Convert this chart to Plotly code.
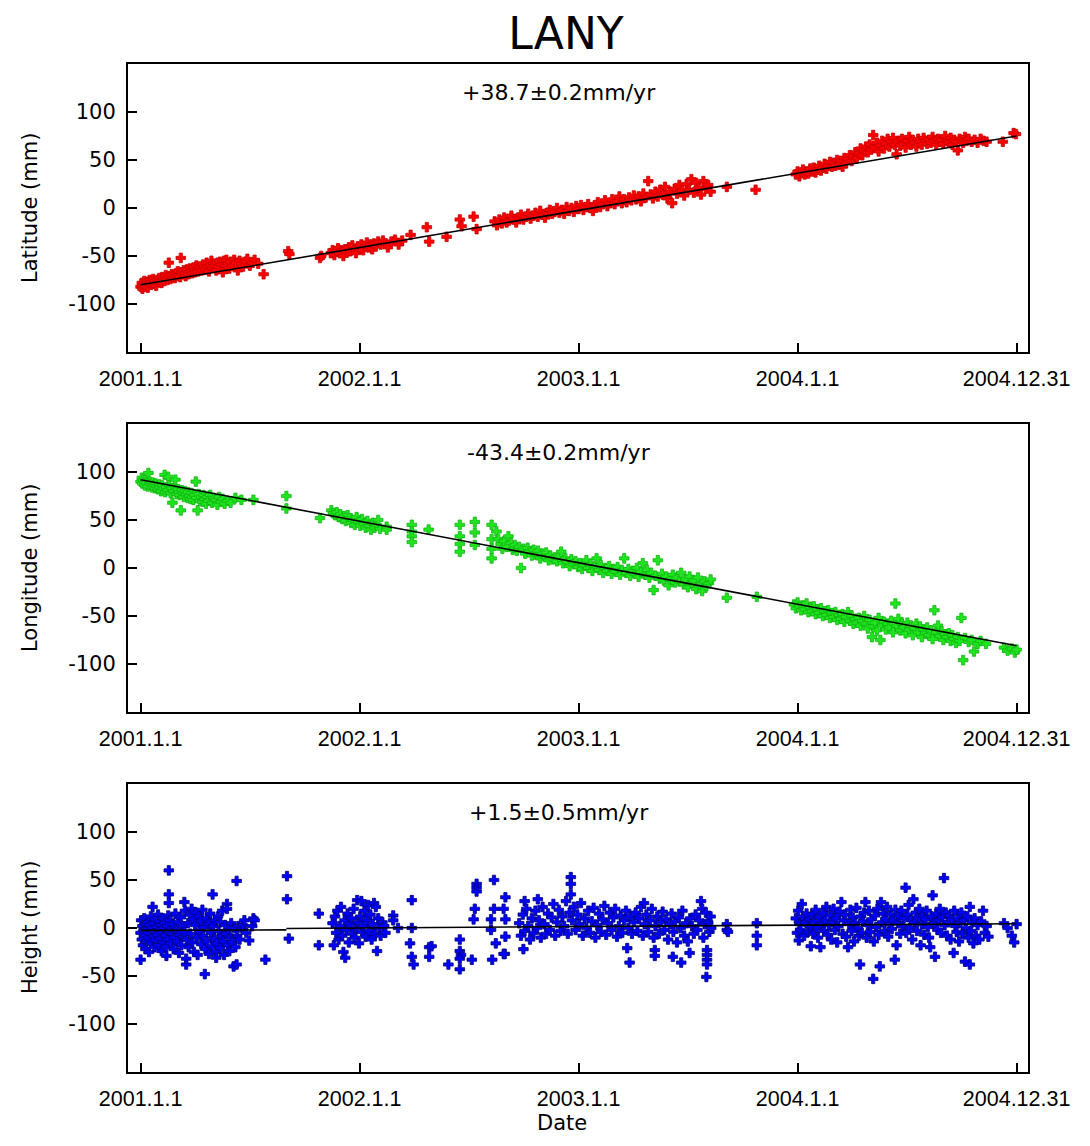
import pandas as pd
import plotly.graph_objects as go

STATION = "LANY"
START = "2001-01-01"
tick_dates = ["2001-01-01", "2002-01-01", "2003-01-01", "2004-01-01", "2004-12-31"]
tick_labels = ["2001.1.1", "2002.1.1", "2003.1.1", "2004.1.1", "2004.12.31"]
y_ticks = [-100, -50, 0, 50, 100]
panel_titles = ["Latitude (mm)", "Longitude (mm)", "Height (mm)"]
rate_labels = ["+38.7\u00b10.2mm/yr", "-43.4\u00b10.2mm/yr", "+1.5\u00b10.5mm/yr"]

# observations: (days since 2001-01-01, mm)
lat_obs = [
    (0, -82), (2, -78), (3, -84), (5, -80), (6, -76), (8, -82), (9, -79), (11, -77), (12, -83), (14, -78),
    (15, -75), (17, -80), (18, -77), (20, -79), (21, -74), (23, -78), (25, -76), (26, -81), (28, -75), (30, -77),
    (31, -73), (33, -76), (35, -78), (36, -72), (38, -74), (40, -76), (42, -70), (44, -73), (45, -75), (47, -57),
    (48, -71), (50, -74), (52, -69), (54, -72), (55, -70), (57, -73), (59, -68), (60, -71), (62, -66), (64, -70),
    (66, -72), (67, -52), (68, -67), (70, -69), (72, -65), (74, -68), (75, -71), (77, -64), (79, -67), (80, -69),
    (82, -63), (84, -66), (86, -68), (88, -62), (89, -65), (91, -67), (93, -60), (95, -64), (96, -66), (98, -61),
    (100, -63), (102, -65), (104, -59), (106, -62), (108, -64), (110, -57), (112, -61), (114, -66), (116, -60),
    (118, -55), (120, -62), (122, -58), (124, -60), (126, -65), (128, -57), (130, -61), (132, -56), (135, -59),
    (137, -67), (139, -55), (141, -60), (143, -54), (146, -58), (148, -63), (150, -56), (153, -60), (156, -54),
    (159, -57), (162, -65), (165, -55), (168, -58), (171, -61), (175, -56), (178, -53), (182, -60), (186, -57),
    (190, -54), (196, -58), (205, -69),
    (246, -45), (248, -48), (299, -52), (301, -50),
    (317, -47), (320, -44), (323, -49), (326, -45), (329, -42), (332, -47), (335, -44), (338, -50), (341, -43),
    (344, -46), (347, -41), (350, -45), (353, -39), (356, -43), (359, -47), (362, -40), (365, -42), (368, -38),
    (371, -44), (374, -40), (377, -36), (380, -41), (383, -38), (386, -43), (389, -37), (392, -40), (396, -35),
    (400, -38), (404, -34), (408, -37), (412, -41), (418, -35), (424, -33), (430, -38), (436, -34),
    (450, -28), (477, -20), (481, -35), (510, -30), (532, -12), (535, -19), (555, -9), (560, -22),
    (590, -14), (594, -18), (598, -12), (602, -16), (606, -10), (610, -15), (614, -13), (618, -8), (622, -12),
    (626, -15), (630, -10), (634, -7), (638, -12), (642, -9), (646, -6), (650, -11), (654, -8), (658, -5),
    (662, -9), (666, -3), (670, -7), (674, -10), (678, -5), (682, -2), (686, -6), (690, -4), (694, 0), (698, -5),
    (702, -2), (706, -6), (710, 1), (714, -3), (718, 0), (722, -4), (726, 2), (730, -1), (734, 3), (738, -2),
    (742, 1), (746, 4), (750, 0), (754, -3), (758, 3), (762, 6), (766, 1), (770, 4), (774, 8), (778, 2),
    (782, 5), (786, 9), (790, 4), (794, 7), (798, 12), (802, 5), (806, 9), (810, 6), (814, 11), (818, 8),
    (822, 13), (826, 9), (830, 12), (834, 7), (838, 15), (842, 11), (846, 28), (850, 14), (854, 10), (858, 17),
    (862, 12), (866, 19), (870, 14), (874, 22), (878, 10), (882, 17), (886, 5), (890, 20), (894, 15), (898, 24),
    (902, 18), (906, 13), (910, 25), (914, 19), (918, 30), (922, 16), (926, 26), (930, 21), (934, 14), (938, 28),
    (942, 20), (946, 24), (950, 17),
    (977, 22), (1025, 19),
    (1092, 35), (1095, 38), (1098, 33), (1101, 37), (1104, 40), (1107, 35), (1110, 38), (1113, 36), (1116, 41),
    (1119, 38), (1122, 42), (1125, 37), (1128, 40), (1131, 44), (1134, 39), (1137, 42), (1140, 46), (1143, 41),
    (1146, 44), (1149, 48), (1152, 43), (1155, 47), (1158, 44), (1161, 50), (1164, 45), (1167, 49), (1170, 43),
    (1173, 52), (1176, 47), (1179, 51), (1182, 55), (1185, 49), (1188, 54), (1191, 58), (1194, 52), (1197, 57),
    (1200, 62), (1203, 55), (1206, 60), (1209, 64), (1212, 58), (1215, 66), (1218, 61), (1221, 76), (1224, 63),
    (1227, 68), (1230, 59), (1233, 65), (1236, 70), (1239, 62), (1242, 67), (1245, 72), (1248, 64), (1251, 69),
    (1254, 73), (1257, 66), (1260, 56), (1263, 70), (1266, 65), (1269, 72), (1272, 67), (1275, 63), (1278, 70),
    (1281, 74), (1284, 66), (1287, 71), (1290, 68), (1293, 64), (1296, 72), (1299, 69), (1302, 66), (1305, 73),
    (1308, 70), (1311, 67), (1314, 71), (1317, 68), (1320, 74), (1323, 70), (1326, 66), (1329, 72), (1332, 69),
    (1335, 71), (1338, 67), (1341, 75), (1344, 70), (1347, 68), (1350, 73), (1353, 66), (1356, 71), (1359, 69),
    (1362, 60), (1365, 72), (1368, 70), (1371, 68), (1374, 74), (1377, 70), (1380, 72), (1385, 69), (1390, 71),
    (1395, 68), (1400, 72), (1405, 70), (1410, 69),
    (1437, 69), (1455, 78), (1459, 77),
]

lon_obs = [
    (0, 90), (2, 94), (3, 88), (5, 92), (7, 86), (8, 91), (10, 89), (12, 85), (13, 99), (15, 90), (17, 87),
    (19, 84), (20, 89), (22, 86), (24, 83), (25, 88), (27, 85), (29, 82), (31, 87), (32, 84), (34, 80), (36, 86),
    (38, 83), (40, 97), (41, 79), (43, 84), (45, 81), (46, 95), (48, 86), (50, 78), (52, 83), (53, 68), (55, 80),
    (57, 85), (58, 92), (60, 77), (62, 82), (64, 79), (65, 76), (67, 60), (69, 81), (71, 78), (72, 74), (74, 80),
    (76, 77), (78, 73), (79, 79), (81, 75), (83, 72), (85, 78), (86, 74), (88, 71), (90, 76), (92, 90), (93, 73),
    (95, 60), (97, 77), (99, 70), (101, 74), (103, 69), (105, 76), (107, 72), (109, 67), (111, 74), (113, 70),
    (116, 76), (119, 68), (122, 73), (125, 71), (128, 66), (131, 74), (134, 69), (137, 72), (140, 67), (145, 70),
    (150, 68), (158, 73), (168, 71),
    (188, 71), (243, 75), (243, 62), (299, 52),
    (318, 60), (321, 57), (324, 55), (327, 58), (330, 53), (333, 56), (336, 51), (339, 54), (342, 49), (345, 55),
    (348, 52), (351, 47), (354, 50), (357, 45), (360, 53), (363, 48), (366, 44), (369, 51), (372, 46), (375, 42),
    (378, 49), (381, 44), (384, 40), (387, 47), (390, 42), (393, 45), (396, 50), (399, 41),
    (410, 43), (410, 40), (452, 45), (452, 38), (452, 33), (452, 27), (480, 40), (532, 45), (532, 33), (532, 25),
    (532, 17), (557, 48), (557, 37), (557, 24), (585, 45), (585, 30), (585, 20), (585, 10),
    (593, 38), (596, 30), (600, 25), (603, 20), (606, 28), (610, 22), (613, 33), (617, 26), (620, 19), (624, 24),
    (627, 18), (631, 22), (634, 0), (638, 20), (641, 15), (645, 21), (648, 17), (652, 13), (655, 19), (659, 14),
    (662, 18), (666, 10), (669, 15), (673, 12), (676, 16), (680, 8), (683, 13), (687, 9), (690, 11), (694, 7),
    (697, 12), (701, 17), (704, 5), (708, 10), (711, 6), (715, 2), (718, 9), (722, 4), (725, 7), (729, 1),
    (732, 5), (736, -1), (739, 3), (743, 8), (746, 0), (750, 4), (753, -3), (757, 2), (760, 10), (764, -2),
    (767, 3), (771, -5), (774, 0), (778, -3), (781, 2), (785, -6), (788, -1), (792, -4), (795, 1), (799, -7),
    (802, -2), (806, 10), (809, -5), (813, -1), (816, -8), (820, -3), (823, -6), (827, 0), (830, -9), (834, -4),
    (837, 5), (841, -7), (844, -2), (848, -10), (851, -5), (855, -23), (858, -8), (862, 8), (865, -11), (869, -6),
    (872, -13), (876, -9), (880, -18), (883, -12), (887, -7), (891, -15), (894, -10), (898, -14), (901, -5),
    (905, -17), (908, -12), (912, -20), (915, -9), (919, -16), (922, -13), (926, -22), (929, -10), (933, -18),
    (936, -24), (940, -14), (943, -19), (947, -16), (950, -12),
    (977, -31), (1027, -30),
    (1089, -38), (1092, -42), (1095, -36), (1098, -40), (1101, -44), (1104, -39), (1107, -43), (1110, -37),
    (1113, -46), (1116, -41), (1119, -45), (1122, -40), (1125, -48), (1128, -43), (1131, -47), (1134, -42),
    (1137, -50), (1140, -45), (1143, -49), (1146, -44), (1149, -52), (1152, -47), (1155, -51), (1158, -46),
    (1161, -54), (1164, -49), (1167, -53), (1170, -48), (1173, -56), (1176, -51), (1179, -46), (1182, -55),
    (1185, -50), (1188, -58), (1191, -53), (1194, -57), (1197, -52), (1200, -60), (1203, -55), (1206, -50),
    (1209, -58), (1212, -63), (1215, -54), (1219, -72), (1221, -61), (1224, -57), (1227, -65), (1230, -52),
    (1233, -75), (1236, -60), (1239, -56), (1242, -64), (1245, -58), (1248, -62), (1251, -55), (1254, -67),
    (1258, -37), (1260, -60), (1263, -53), (1266, -65), (1269, -58), (1272, -62), (1275, -68), (1278, -57),
    (1281, -64), (1284, -60), (1287, -70), (1290, -63), (1293, -58), (1296, -67), (1299, -61), (1302, -72),
    (1305, -64), (1308, -68), (1311, -62), (1314, -70), (1317, -65), (1320, -74), (1323, -44), (1326, -67),
    (1329, -60), (1332, -71), (1335, -66), (1338, -75), (1341, -69), (1344, -72), (1347, -68), (1350, -76),
    (1353, -70), (1356, -74), (1359, -78), (1362, -72), (1365, -76), (1368, -52), (1371, -96), (1374, -73),
    (1380, -77), (1385, -75), (1389, -87), (1395, -79), (1400, -76), (1409, -79),
    (1439, -83), (1445, -86), (1452, -84), (1457, -88), (1460, -85),
]

hgt_obs = [
    (0, -5), (0, -33), (1, 8), (2, -12), (3, 2), (4, -18), (5, -3), (6, 10), (7, -8), (8, -22), (9, 4),
    (10, -14), (11, -1), (12, 6), (13, -10), (14, -25), (15, 3), (16, -6), (17, 12), (18, -16), (19, 0),
    (20, 22), (21, -9), (22, 5), (23, -20), (24, -4), (25, 9), (26, -13), (27, 1), (28, -7), (29, 14),
    (30, -18), (31, -2), (32, 7), (33, -11), (34, 3), (35, -24), (36, -5), (37, 10), (38, -15), (39, 0),
    (40, 5), (41, -8), (42, -20), (43, -29), (44, 2), (45, -12), (46, 13), (47, 60), (47, 35), (47, 26),
    (48, -3), (49, 8), (50, -16), (52, -6), (53, 4), (55, -22), (56, -10), (58, 15), (59, -2), (61, -14),
    (62, 6), (64, -26), (65, -7), (67, 11), (68, -18), (70, 2), (71, -9), (73, 27), (73, -4), (74, 18),
    (76, -38), (76, -32), (77, -12), (79, 5), (80, -20), (82, 14), (83, -6), (85, 20), (86, -15), (88, 9),
    (89, -25), (91, 3), (92, 16), (94, -10), (95, -28), (97, 12), (98, -3), (100, 7), (101, -17), (103, 19),
    (104, -8), (106, 1), (107, -48), (108, -22), (110, 10), (111, -14), (113, 4), (114, -27), (116, 15),
    (117, -5), (119, -19), (120, 35), (121, 2), (123, -11), (124, 8), (126, -25), (126, -31), (127, -16),
    (129, 12), (130, -3), (132, -21), (133, 6), (135, -9), (136, 18), (138, -14), (139, -28), (141, 3),
    (142, -6), (144, 25), (144, 20), (145, -18), (147, -2), (148, -24), (150, -10), (151, 5), (153, -15),
    (155, -40), (156, 0), (158, -20), (160, 49), (160, -38), (161, -8), (163, 2), (165, -12), (168, 0),
    (170, 3), (173, 8), (176, -5), (181, -13), (186, 2), (188, 10), (190, 8), (208, -33),
    (244, 54), (244, 30), (247, -11), (297, 15), (297, -18),
    (320, 5), (322, -18), (324, 12), (326, -5), (328, 18), (330, -12), (332, 2), (334, 22), (336, -8),
    (338, -25), (340, 8), (341, -31), (343, -2), (345, 15), (347, -15), (349, 4), (351, 10), (353, -6),
    (355, 20), (357, -10), (359, 0), (361, 29), (362, 6), (364, -16), (366, 12), (368, 28), (369, -4),
    (371, 2), (373, 18), (375, -9), (377, 8), (379, 24), (381, -3), (383, 14), (385, -12), (387, 4),
    (389, 26), (391, -6), (392, 22), (394, -24), (396, 10), (398, 0), (400, -8), (403, 6), (406, 2), (408, -5),
    (421, 13), (421, 8), (429, 0), (452, 29), (452, 0), (449, -16), (452, -30), (455, -38), (481, -20),
    (481, -30), (485, -19), (513, -38), (532, -12), (532, -24), (534, -28), (532, -32), (532, -43), (552, -33),
    (560, 46), (560, 42), (560, 38), (557, 20), (555, 9), (589, 50), (589, 20), (584, 9), (584, -2),
    (592, -16), (586, -33), (608, 32), (605, 20), (608, 9), (608, -9), (607, -27), (605, -27), (638, -22),
    (640, 28),
    (631, 5), (634, -8), (637, 14), (640, -3), (643, 20), (646, 2), (649, -12), (652, 10), (655, -5),
    (658, 18), (661, 0), (662, 30), (664, 8), (667, -10), (670, 22), (673, 4), (676, -6), (679, 15),
    (682, -2), (685, 11), (688, 25), (691, -8), (694, 6), (697, 19), (700, -3), (703, 12), (706, 2),
    (709, 28), (712, -6), (715, 16), (717, 53), (717, 46), (717, 35), (719, 8), (722, 22), (725, -2),
    (728, 14), (731, 4), (734, 26), (737, -8), (740, 10), (743, 0), (746, 18), (749, -5), (752, 7), (755, 21),
    (758, -10), (761, 3), (764, 15), (767, -4), (770, 9), (773, 23), (776, -7), (779, 5), (782, 16),
    (785, -2), (788, 11), (791, 20), (794, -9), (797, 2), (800, 13), (803, -5), (806, 8), (809, 18),
    (811, -21), (813, 0), (815, -36), (816, 12), (819, -6), (822, 6), (825, 16), (828, -3), (831, 10),
    (834, 22), (837, -8), (839, 26), (840, 4), (843, 14), (846, -4), (849, 8), (852, 20), (855, -10),
    (857, -23), (857, -29), (858, 2), (861, 12), (864, -6), (867, 6), (870, 17), (873, -2), (876, 9),
    (879, -12), (882, 4), (885, 15), (887, -30), (888, -4), (891, 7), (894, -15), (897, 11), (900, 0),
    (901, -36), (903, 18), (906, -8), (909, 5), (912, -14), (915, -26), (916, 10), (919, 2), (922, -6),
    (925, 14), (928, -2), (931, 8), (934, 28), (936, 20), (938, -10), (940, 4), (942, 16), (944, -23),
    (944, -28), (944, -33), (944, -38), (943, -51), (946, 6), (948, -4), (950, 12), (951, 0),
    (977, 4), (977, -2), (979, -4), (1027, 5), (1027, -8), (1027, -18),
    (1092, 10), (1094, -5), (1096, 18), (1097, -13), (1098, 4), (1100, -2), (1102, 25), (1104, 12),
    (1106, -8), (1108, 6), (1110, 15), (1112, -4), (1114, 9), (1116, 2), (1117, -19), (1119, 14),
    (1121, -6), (1123, 7), (1125, 19), (1127, 0), (1129, -10), (1131, 11), (1133, -20), (1135, 4),
    (1137, 16), (1139, -3), (1141, 8), (1143, 22), (1145, -7), (1147, 3), (1149, 13), (1151, -12),
    (1153, 6), (1155, 20), (1157, -2), (1159, 10), (1161, -15), (1163, 2), (1165, 17), (1168, 27),
    (1170, -6), (1172, 8), (1174, 14), (1176, -9), (1179, -20), (1181, 4), (1183, 19), (1185, -3),
    (1187, 11), (1189, -14), (1191, 5), (1193, 21), (1195, 0), (1197, -8), (1199, -38), (1200, 12),
    (1202, -5), (1204, 7), (1206, 16), (1208, 27), (1210, -10), (1212, 3), (1214, 18), (1216, -4),
    (1218, 9), (1221, -53), (1222, -14), (1224, 13), (1226, 1), (1228, 20), (1230, -7), (1232, -40),
    (1234, 27), (1236, 6), (1238, 15), (1240, -3), (1242, 9), (1244, 22), (1246, -9), (1248, 4),
    (1250, 14), (1252, -1), (1254, 8), (1257, -33), (1258, 19), (1260, -18), (1262, 5), (1264, 12),
    (1266, -6), (1268, 18), (1270, 2), (1272, 10), (1275, 42), (1276, -5), (1278, 14), (1280, 24),
    (1282, 0), (1284, 8), (1286, -12), (1288, 30), (1290, 6), (1292, 16), (1294, -3), (1296, 11),
    (1298, 20), (1300, -18), (1302, 4), (1304, 13), (1306, -7), (1308, 9), (1310, 18), (1312, 1),
    (1314, -10), (1316, -20), (1318, 12), (1320, 34), (1322, 5), (1324, -30), (1326, 15), (1328, -2),
    (1330, 8), (1332, 20), (1334, -5), (1336, 11), (1339, 52), (1340, 3), (1342, 16), (1344, -8),
    (1346, 6), (1348, 13), (1350, -12), (1352, 9), (1355, -26), (1356, 18), (1358, 2), (1360, -4),
    (1362, 10), (1364, -14), (1366, 5), (1368, 16), (1370, -6), (1372, 8), (1374, -35), (1376, 0),
    (1378, 12), (1380, -10), (1382, 22), (1382, -38), (1384, -3), (1386, 6), (1388, -16), (1390, 10),
    (1392, -8), (1395, 3), (1398, -12), (1401, 7), (1404, 18), (1407, -5), (1410, 2), (1413, -9),
    (1439, 5), (1445, 0), (1452, -8), (1456, -15), (1460, 4),
]

# fitted trend lines: (days since start, mm)
lat_fit = [(0, -80), (1460, 75)]
lon_fit = [(0, 92), (1460, -81)]
hgt_fit_early = [(0, -2.5), (243, -2.0)]
hgt_fit_late = [(243, -0.5), (1460, 4.5)]

marker_fill = ["#ff0000", "#1ee61e", "#0000ff"]
marker_edge = ["#c80000", "#14b414", "#00007a"]

FONT = "DejaVu Sans"
XTICK_FONT = "Liberation Sans"
base = pd.Timestamp(START)


def to_xy(pairs):
    days = [p[0] for p in pairs]
    vals = [p[1] for p in pairs]
    return [base + pd.Timedelta(days=d) for d in days], vals


fig = go.Figure()
obs_sets = [lat_obs, lon_obs, hgt_obs]
fit_sets = [[lat_fit], [lon_fit], [hgt_fit_early, hgt_fit_late]]

for i in range(3):
    ax = "" if i == 0 else str(i + 1)
    x, y = to_xy(obs_sets[i])
    fig.add_trace(go.Scatter(
        x=x, y=y, mode="markers", xaxis="x" + ax, yaxis="y" + ax,
        marker=dict(symbol="cross", size=8, color=marker_fill[i],
                    line=dict(color=marker_edge[i], width=0.8)),
        showlegend=False, hoverinfo="x+y"))
    for seg in fit_sets[i]:
        fx, fy = to_xy(seg)
        fig.add_trace(go.Scatter(
            x=fx, y=fy, mode="lines", xaxis="x" + ax, yaxis="y" + ax,
            line=dict(color="black", width=1.6), showlegend=False, hoverinfo="skip"))

# the page body keeps its default 8px margin; size the figure to fit inside it
OFF = 8
W, H = 1090 - 2 * OFF, 1146 - 2 * OFF
# target plot areas (window px): x 128-1037, y 64-352 / 424-712 / 784-1072
mt, ml = 64 - OFF, 128 - OFF
mr = W - (1037 - OFF)
mb = H - (1072 - OFF)
pw = W - ml - mr
ph = H - mt - mb
panel_h = 288
gap = 72
domains = []
for i in range(3):
    top = i * (panel_h + gap)
    domains.append([1 - (top + panel_h) / ph, 1 - top / ph])

layout = dict(
    width=W, height=H,
    margin=dict(l=ml, r=mr, t=mt, b=mb),
    paper_bgcolor="white", plot_bgcolor="white",
    font=dict(family=FONT, color="black"),
    title=dict(text=STATION, x=(566 - OFF) / W, y=1 - (34 - OFF) / H,
               xref="container", yref="container",
               xanchor="center", yanchor="middle",
               font=dict(family=FONT, size=44, color="black")),
    showlegend=False,
)
for i in range(3):
    ax = "" if i == 0 else str(i + 1)
    layout["xaxis" + ax] = dict(
        type="date", range=["2000-12-11", "2005-01-19"], domain=[0, 1],
        anchor="y" + ax, tickvals=tick_dates, ticktext=tick_labels,
        ticks="inside", ticklen=9, tickwidth=1.5, tickcolor="black",
        showline=True, linecolor="black", linewidth=2, mirror=True,
        showgrid=False, zeroline=False, ticklabelstandoff=6,
        tickfont=dict(family=XTICK_FONT, size=21.5, color="black"))
    layout["yaxis" + ax] = dict(
        range=[-150, 150], domain=domains[i], anchor="x" + ax,
        tickvals=y_ticks, ticktext=[str(v) for v in y_ticks],
        ticks="inside", ticklen=9, tickwidth=1.5, tickcolor="black",
        showline=True, linecolor="black", linewidth=2, mirror=True,
        showgrid=False, zeroline=False, ticklabelstandoff=6,
        tickfont=dict(family=FONT, size=21, color="black"))

annotations = []
for i in range(3):
    ax = "" if i == 0 else str(i + 1)
    annotations.append(dict(
        text=rate_labels[i], xref="paper", x=(563 - 128) / pw,
        yref="y" + ax + " domain", y=1 - 28 / panel_h,
        xanchor="center", yanchor="middle", showarrow=False,
        font=dict(family=FONT, size=22, color="black")))
    annotations.append(dict(
        text=panel_titles[i], xref="paper", x=0, xshift=-(128 - 30),
        yref="y" + ax + " domain", y=0.5, textangle=-90,
        xanchor="center", yanchor="middle", showarrow=False,
        font=dict(family=FONT, size=21, color="black")))
annotations.append(dict(
    text="Date", xref="paper", x=(566 - 128) / pw,
    yref="paper", y=0, yshift=-(1123 - 1072), xanchor="center", yanchor="middle",
    showarrow=False, font=dict(family=FONT, size=21, color="black")))
layout["annotations"] = annotations

fig.update_layout(**layout)
fig.write_html("out.html", config={"displayModeBar": False})
